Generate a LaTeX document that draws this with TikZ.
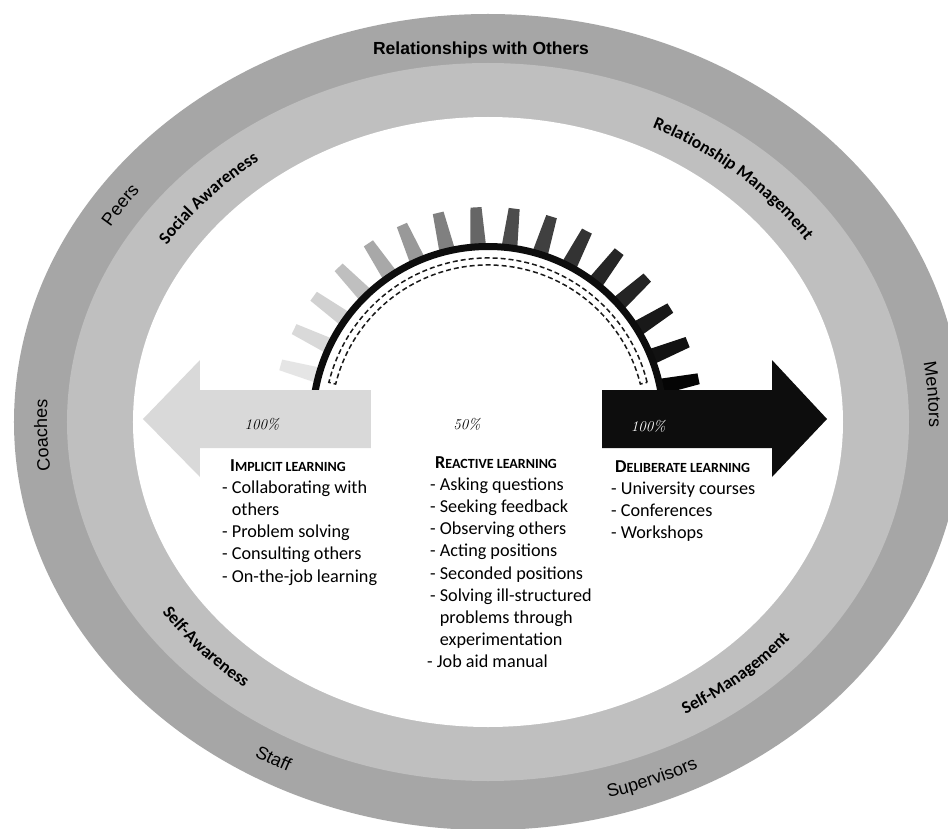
\documentclass[tikz,border=0pt]{standalone}
\usepackage{fontspec}
\usetikzlibrary{decorations.text}

\newfontfamily\bodyfont{Carlito}
\newfontfamily\arialfont{Liberation Sans}

\definecolor{outerband}{gray}{0.65}
\definecolor{innerband}{gray}{0.75}
\definecolor{implicitgray}{gray}{0.85}
\definecolor{deliberateblack}{gray}{0.05}

\newcommand\outerlbl{\arialfont\fontsize{18}{20}\selectfont}
\newcommand\innerlbl{\bodyfont\bfseries\fontsize{17.5}{20}\selectfont}
\newcommand\smallcap[2]{{\bfseries #1\fontsize{14}{22.2}\selectfont #2}}

% band radii
\def\Oa{474} \def\Ob{408}
\def\Ma{421} \def\Mb{359}
\def\Wa{355} \def\Wb{305}

\begin{document}
\begin{tikzpicture}[x=1pt, y=1pt,
    outerlabel/.style={decorate, decoration={text along path, text align=center, text={|\outerlbl|#1}}},
    innerlabel/.style={decorate, decoration={text along path, text align=center, text={|\innerlbl|#1}}},
    block/.style={anchor=north west, inner sep=0pt, align=left, font=\bodyfont\fontsize{18.2}{22.2}\selectfont},
    pct/.style={inner sep=0pt, font=\rmfamily\itshape\fontsize{15}{18}\selectfont}]
    \useasboundingbox (-488,-406) rectangle (460,422);
    \clip (-488,-406) rectangle (460,422);
    \fill[white] (-488,-406) rectangle (460,422);

    \fill[outerband] (0,0) ellipse[x radius=\Oa, y radius=\Ob];
    \fill[innerband] (0,0) ellipse[x radius=\Ma, y radius=\Mb];
    \fill[white] (0,0) ellipse[x radius=\Wa, y radius=\Wb];

    \foreach \tone [count=\i from 0] in {10,15,18,25,34,40,50,60,70,75,80,85,86,90,93,98} {
        \fill[black!\tone, rotate=164.6-10.2*\i] (174,-8) -- (215,-5.5) -- (215,5.5) -- (174,8) -- cycle;
    }
    \draw[line width=7, black!95] (0:175.5) arc[start angle=0, end angle=180, radius=175.5];
    \draw[line width=1.5, black!90, dash pattern=on 5pt off 3pt]
        (14:164) arc[start angle=14, end angle=166, radius=164] -- (166:157)
        arc[start angle=166, end angle=14, radius=157] -- cycle;

    \fill[implicitgray] (-345,3) -- (-288,62) -- (-288,32) -- (-117,32) -- (-117,-26) -- (-288,-26) -- (-288,-55) -- cycle;
    \fill[deliberateblack] (339,3) -- (284,62) -- (284,32) -- (114,32) -- (114,-26) -- (284,-26) -- (284,-55) -- cycle;

    \node[pct] (pimplicit) at (-226,-2) {100\%};
    \node[pct] (preactive) at (-21,-2) {50\%};
    \node[pct, white] (pdeliberate) at (160,-4) {100\%};

    \node[block] (implicit) at (-266,-37) {\hspace*{8pt}\smallcap{I}{MPLICIT LEARNING}\\
        - Collaborating with\\
        \phantom{- }others\\
        - Problem solving\\
        - Consulting others\\
        - On-the-job learning};
    \node[block] (reactive) at (-58,-34) {\hspace*{5pt}\smallcap{R}{EACTIVE LEARNING}\\
        - Asking questions\\
        - Seeking feedback\\
        - Observing others\\
        - Acting positions\\
        - Seconded positions\\
        - Solving ill-structured\\
        \phantom{- }problems through\\
        \phantom{- }experimentation\\
        \hspace*{-3pt}- Job aid manual};
    \node[block] (deliberate) at (123,-38) {\hspace*{4pt}\smallcap{D}{ELIBERATE LEARNING}\\
        - University courses\\
        - Conferences\\
        - Workshops};

    \node[anchor=base, inner sep=0pt, font=\arialfont\bfseries\fontsize{17.5}{20}\selectfont] (others) at (-7,367) {Relationships with Others};
    \path[outerlabel=Peers] (166:441 and 377) arc[start angle=166, end angle=126, x radius=441, y radius=377];
    \path[outerlabel=Coaches] (202:441 and 377) arc[start angle=202, end angle=162, x radius=441, y radius=377];
    \path[outerlabel=Mentors] (24:441 and 377) arc[start angle=24, end angle=-16, x radius=441, y radius=377];
    \path[outerlabel=Staff] (221:453 and 390) arc[start angle=221, end angle=261, x radius=453, y radius=390];
    \path[outerlabel=Supervisors] (267:453 and 390) arc[start angle=267, end angle=317, x radius=453, y radius=390];

    \path[innerlabel=Social Awareness] (168:382 and 326) arc[start angle=168, end angle=108, x radius=382, y radius=326];
    \path[innerlabel=Relationship Management] (83:382 and 326) arc[start angle=83, end angle=13, x radius=382, y radius=326];
    \path[innerlabel=Self-Awareness] (192:394 and 338) arc[start angle=192, end angle=252, x radius=394, y radius=338];
    \path[innerlabel=Self-Management] (281:394 and 338) arc[start angle=281, end angle=341, x radius=394, y radius=338];
\end{tikzpicture}
\end{document}
